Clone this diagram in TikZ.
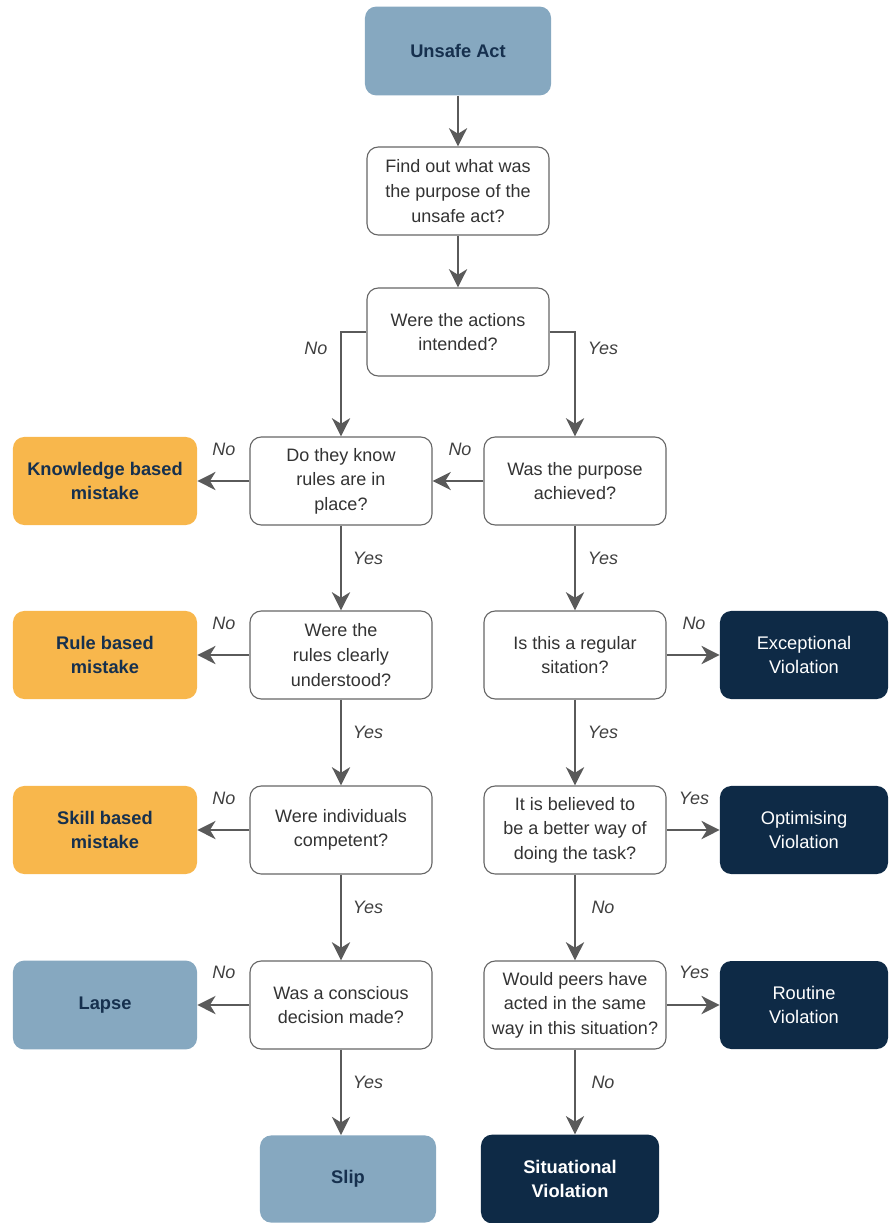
\documentclass[tikz,border=0pt]{standalone}
\usepackage{fontspec}
\setmainfont{Liberation Sans}
\usepackage{tikz}
\usetikzlibrary{
    arrows.meta,
    positioning
}
\definecolor{steelbox}{RGB}{134,168,192}
\definecolor{ambox}{RGB}{248,183,76}
\definecolor{navybox}{RGB}{14,42,70}
\definecolor{navytext}{RGB}{22,48,78}
\definecolor{linegray}{RGB}{90,90,90}

\begin{document}
\begin{tikzpicture}[x=0.025cm, y=-0.025cm,
    q/.style={draw=gray!80!black, fill=white, rounded corners=8pt, line width=0.8pt,
              minimum width=4.55cm, minimum height=2.2cm, align=center,
              font=\fontsize{12.8}{17.5}\selectfont, text=black!80},
    start/.style={fill=steelbox, rounded corners=8pt, minimum width=4.65cm,
              minimum height=2.22cm, align=center,
              font=\fontsize{13}{17.5}\selectfont\bfseries, text=navytext},
    mis/.style={fill=ambox, rounded corners=8pt, minimum width=4.6cm,
              minimum height=2.2cm, align=center,
              font=\fontsize{13}{17.5}\selectfont\bfseries, text=navytext},
    viol/.style={fill=navybox, rounded corners=8pt, minimum width=4.2cm,
              minimum height=2.2cm, align=center,
              font=\fontsize{13}{17.5}\selectfont, text=white},
    arr/.style={-{Stealth[length=13pt, width=13pt, inset=4pt]}, line width=1.2pt, linegray},
    lbl/.style={font=\fontsize{12.8}{15}\selectfont\itshape, text=black!75}
  ]
    \useasboundingbox (0,0) rectangle (888,1223);

    % Start
    \node[start](unsafe)   at (458, 51)  {Unsafe Act};
    \node[q](findout)      at (458, 191) {Find out what was\\the purpose of the\\unsafe act?};
    \node[q](intended)     at (458, 332) {Were the actions\\intended?};
    % Error branch
    \node[q](know)         at (341, 481) {Do they know\\rules are in\\place?};
    \node[q](rules)        at (341, 655) {Were the\\rules clearly\\understood?};
    \node[q](competent)    at (341, 830) {Were individuals\\competent?};
    \node[q](conscious)    at (341, 1005){Was a conscious\\decision made?};
    \node[mis](knowmis)    at (105, 481) {Knowledge based\\mistake};
    \node[mis](rulemis)    at (105, 655) {Rule based\\mistake};
    \node[mis](skillmis)   at (105, 830) {Skill based\\mistake};
    \node[start, minimum width=4.6cm](lapse) at (105, 1005){Lapse};
    \node[start, minimum width=4.4cm, minimum height=2.18cm](slip) at (348, 1179){Slip};
    % Violation branch
    \node[q](purpose)      at (575, 481) {Was the purpose\\achieved?};
    \node[q](regular)      at (575, 655) {Is this a regular\\sitation?};
    \node[q](better)       at (575, 830) {It is believed to\\be a better way of\\doing the task?};
    \node[q](peers)        at (575, 1005){Would peers have\\acted in the same\\way in this situation?};
    \node[viol](exceptional) at (804, 655) {Exceptional\\Violation};
    \node[viol](optimising)  at (804, 830) {Optimising\\Violation};
    \node[viol](routine)     at (804, 1005){Routine\\Violation};
    \node[viol, font=\fontsize{13}{17.5}\selectfont\bfseries, minimum width=4.45cm,
          minimum height=2.22cm](situational) at (570, 1179){Situational\\Violation};

    \draw[arr](unsafe)--(findout);
    \draw[arr](findout)--(intended);
    \draw[arr](intended.west) -| (know);
    \draw[arr](intended.east) -| (purpose);
    \draw[arr](purpose)--(know);
    \draw[arr](know)--(knowmis);
    \draw[arr](know)--(rules);
    \draw[arr](rules)--(rulemis);
    \draw[arr](rules)--(competent);
    \draw[arr](competent)--(skillmis);
    \draw[arr](competent)--(conscious);
    \draw[arr](conscious)--(lapse);
    \draw[arr](conscious.south) -- (conscious.south |- slip.north);
    \draw[arr](purpose)--(regular);
    \draw[arr](regular)--(exceptional);
    \draw[arr](regular)--(better);
    \draw[arr](better)--(optimising);
    \draw[arr](better)--(peers);
    \draw[arr](peers)--(routine);
    \draw[arr](peers.south) -- (peers.south |- situational.north);

    % Answers
    \node[lbl](n1)  at (316, 348) {No};
    \node[lbl](y1)  at (603, 348) {Yes};
    \node[lbl](n2)  at (224, 449) {No};
    \node[lbl](n3)  at (460, 449) {No};
    \node[lbl](y2)  at (368, 558) {Yes};
    \node[lbl](y3)  at (603, 558) {Yes};
    \node[lbl](n4)  at (224, 623) {No};
    \node[lbl](n5)  at (694, 623) {No};
    \node[lbl](y4)  at (368, 732) {Yes};
    \node[lbl](y5)  at (603, 732) {Yes};
    \node[lbl](n6)  at (224, 798) {No};
    \node[lbl](y6)  at (694, 798) {Yes};
    \node[lbl](y7)  at (368, 907) {Yes};
    \node[lbl](n7)  at (603, 907) {No};
    \node[lbl](n8)  at (224, 972) {No};
    \node[lbl](y8)  at (694, 972) {Yes};
    \node[lbl](y9)  at (368, 1082){Yes};
    \node[lbl](n9)  at (603, 1082){No};
\end{tikzpicture}
\end{document}
